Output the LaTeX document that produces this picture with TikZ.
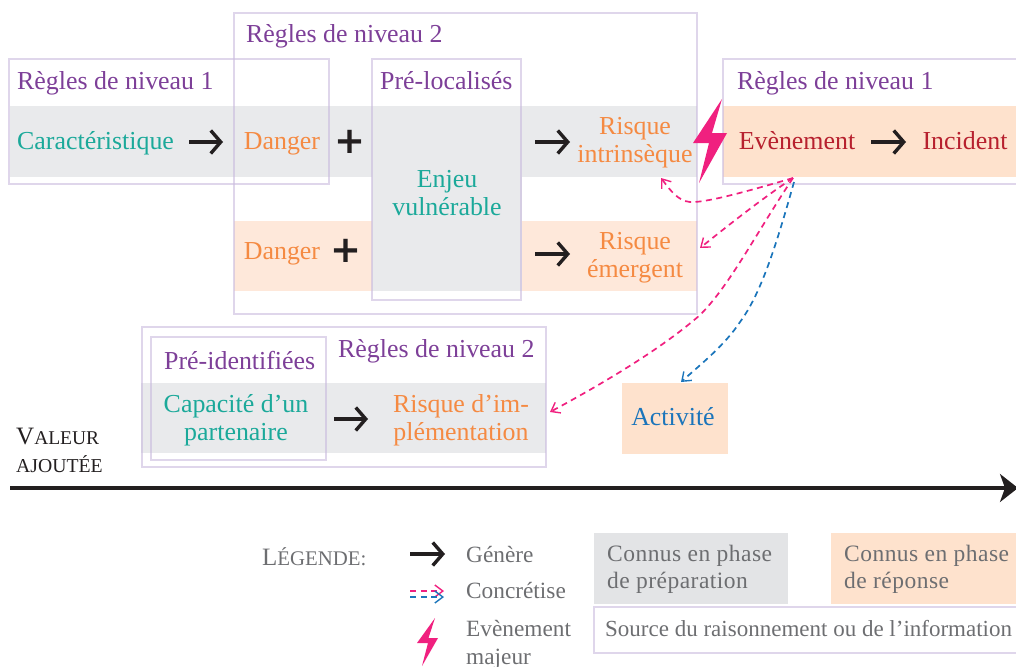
\documentclass[tikz,border=0pt]{standalone}
\usepackage{fontspec}
\setmainfont{Liberation Serif}
\newfontfamily\plusfont{DejaVu Sans}
\usetikzlibrary{arrows.meta}
\definecolor{cpurple}{HTML}{7D3F98}
\definecolor{cteal}{HTML}{1BA99A}
\definecolor{corange}{HTML}{F58A42}
\definecolor{cred}{HTML}{B7202E}
\definecolor{cblue}{HTML}{1B75BB}
\definecolor{cdark}{HTML}{231F20}
\definecolor{cgrey}{HTML}{6D6E71}
\definecolor{cpink}{HTML}{F0207F}
\definecolor{fgrey}{HTML}{E9EAEC}
\definecolor{lgrey}{HTML}{E3E4E6}
\definecolor{forange}{HTML}{FEE2CD}
\definecolor{forangeb}{HTML}{FEE8DA}
\definecolor{cframe}{HTML}{C9BBDE}
\tikzset{
  x=1pt,y=-1pt,
  band/.style={draw=none,fill=fgrey},
  bando/.style={draw=none,fill=forangeb},
  frame/.style={draw=cframe,draw opacity=0.6,line width=2pt,fill=none},
  txt/.style={inner sep=0pt,font=\fontsize{25.9}{28}\selectfont,align=center},
  one/.style={txt,text height=19pt,text depth=5pt},
  title/.style={txt,text=cpurple,anchor=base west},
  gen/.style={draw=cdark,line width=3.4pt,-{Straight Barb[length=10pt,width=23pt,line width=3.4pt]}},
  conc/.style={dashed,dash pattern=on 6pt off 4.5pt,line width=1.7pt,-{Straight Barb[length=8pt,width=12pt,line width=1.4pt]}},
  bolt/.style={fill=cpink,draw=none},
  leg/.style={inner sep=0pt,text=cgrey,anchor=base west,font=\fontsize{23.3}{28}\selectfont,align=left},
  legwide/.style={leg,font=\fontsize{23.5}{27}\selectfont\addfontfeature{LetterSpace=2}},
  plussign/.style={inner sep=0pt,text=cdark,font=\plusfont\bfseries\fontsize{37}{37}\selectfont},
  axislabel/.style={inner sep=0pt,text=cdark,anchor=base west},
}
\begin{document}
\begin{tikzpicture}
\useasboundingbox (0,0) rectangle (1016,666);
% bands
\fill[band] (10,106) rectangle (697,177);
\fill[band] (372,177) rectangle (522,291);
\fill[bando] (234,221) rectangle (372,291);
\fill[bando] (522,221) rectangle (697,291);
\fill[fill=forange] (723,106) rectangle (1016,177);
\fill[band] (141,383) rectangle (546,453);
\fill[fill=forange] (622,383) rectangle (728,454);
% frames
\draw[frame] (9,59) rectangle (329,184);
\draw[frame] (234,13) rectangle (697,314);
\draw[frame] (372,59) rectangle (521,300);
\draw[frame] (723,59) rectangle (1020,184);
\draw[frame] (142,327) rectangle (546,467);
\draw[frame] (151,337) rectangle (326,460);
% titles
\node[title] (t1) at (17,90) {Règles de niveau 1};
\node[title] (t2) at (246,43) {Règles de niveau 2};
\node[title] (t3) at (380,90) {Pré-localisés};
\node[title] (t4) at (737,90) {Règles de niveau 1};
\node[title] (t5) at (164,369) {Pré-identifiées};
\node[title] (t6) at (338,357) {Règles de niveau 2};
% texts
\node[one,text=cteal,anchor=west] (carac) at (17,142) {Caractéristique};
\node[one,text=corange] (dangerA) at (282,142) {Danger};
\node[plussign] (plusA) at (350,142) {+};
\node[one,text=corange] (dangerB) at (282,252) {Danger};
\node[plussign] (plusB) at (346,251) {+};
\node[txt,text=cteal] (enjeu) at (447,193) {Enjeu\\vulnérable};
\node[txt,text=corange] (rint) at (635,143) {Risque\\intrinsèque};
\node[txt,text=corange] (reme) at (635,258) {Risque\\émergent};
\node[one,text=cred] (even) at (797,142) {Evènement};
\node[one,text=cred] (inci) at (965,142) {Incident};
\node[txt,text=cteal] (capa) at (236,420) {Capacité d’un\\partenaire};
\node[txt,text=corange] (rimp) at (461,420) {Risque d’im-\\plémentation};
\node[one,text=cblue] (acti) at (673,418) {Activité};
\node[axislabel] (val) at (16,444) {\fontsize{25}{28}\selectfont V\fontsize{19.5}{28}\selectfont ALEUR};
\node[axislabel] (ajo) at (16,472) {\fontsize{19.7}{28}\selectfont AJOUTÉE};
% generating arrows
\draw[gen] (carac.east) ++(15,0) -- (223,142);
\coordinate (g1a) at (535,142); \coordinate (g1b) at (570,142);
\draw[gen] (g1a) -- (g1b);
\coordinate (g2a) at (535,254); \coordinate (g2b) at (570,254);
\draw[gen] (g2a) -- (g2b);
\coordinate (g3a) at (871,142); \coordinate (g3b) at (906,142);
\draw[gen] (g3a) -- (g3b);
\coordinate (g4a) at (334,419); \coordinate (g4b) at (368,419);
\draw[gen] (g4a) -- (g4b);
% bolt
\fill[bolt] (722,99) -- (693,143) -- (709,143) -- (699,183) -- (727,133) -- (712,133) -- cycle;
% concretise
\coordinate (ev1) at (793,178);
\coordinate (ev2) at (794,182);
\coordinate (a1) at (661,178);
\coordinate (a2) at (700,248);
\coordinate (a3) at (550,412);
\coordinate (a4) at (681,382);
\draw[conc,cpink] (ev1) .. controls (745,192) and (705,203) .. (690,202) .. controls (678,201) and (670,190) .. (a1);
\draw[conc,cpink] (ev1) .. controls (760,200) and (725,228) .. (a2);
\draw[conc,cpink] (ev1) .. controls (755,235) and (730,285) .. (700,315) .. controls (660,350) and (600,385) .. (a3);
\draw[conc,cblue] (ev2) .. controls (775,250) and (760,295) .. (740,322) .. controls (725,345) and (700,365) .. (a4);
% axis
\coordinate (axA) at (10,488); \coordinate (axB) at (1018,488);
\draw[cdark,line width=4pt,-{Stealth[length=18pt,width=28pt,inset=5pt]}] (axA) -- (axB);
% legend
\node[inner sep=0pt,text=cgrey,anchor=base west] (lg) at (262,565) {\fontsize{25}{28}\selectfont L\fontsize{20.8}{28}\selectfont ÉGENDE:};
\coordinate (l1a) at (410,554); \coordinate (l1b) at (445,554);
\draw[gen] (l1a) -- (l1b);
\coordinate (l2a) at (410,591); \coordinate (l2b) at (444,591);
\coordinate (l3a) at (410,597); \coordinate (l3b) at (444,597);
\draw[conc,cpink] (l2a) -- (l2b);
\draw[conc,cblue] (l3a) -- (l3b);
\fill[bolt] (435,618) -- (417,643) -- (428,643) -- (422,666) -- (438,638) -- (428.5,638) -- cycle;
\node[leg] (lgen) at (466,562) {Génère};
\node[leg] (lcon) at (466,598) {Concrétise};
\node[leg,anchor=north west] (leve) at (466,620) {Evènement\\majeur};
\fill[fill=lgrey] (594,533) rectangle (788,604);
\fill[fill=forange] (831,533) rectangle (1016,604);
\node[legwide,anchor=north west] (lc1) at (607,545) {Connus en phase\\de préparation};
\node[legwide,anchor=north west] (lc2) at (844,545) {Connus en phase\\de réponse};
\draw[frame] (594,607) rectangle (1020,653);
\node[leg,font=\fontsize{23}{27}\selectfont] (lsrc) at (605,636) {Source du raisonnement ou de l’information};
\end{tikzpicture}
\end{document}
